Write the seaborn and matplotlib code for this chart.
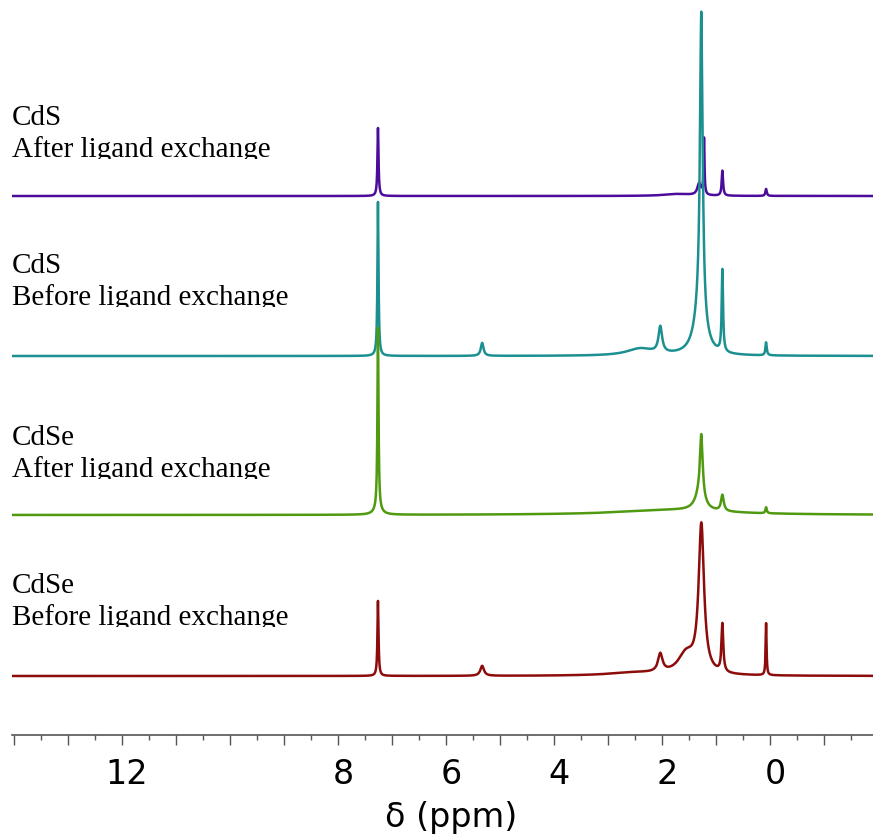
import numpy as np
import pandas as pd
import seaborn as sns
import matplotlib.pyplot as plt
from matplotlib.ticker import MultipleLocator, FuncFormatter
from matplotlib.transforms import Bbox, ScaledTranslation

sns.set_theme(style="white")
plt.rcParams['font.family'] = ['DejaVu Sans']

# peak tables: position (ppm), height (arb.), half width (ppm)
cds_after_pos = [7.26, 1.31, 1.22, 0.88, 0.07, 1.7]
cds_after_h = [68, 12, 56, 25, 7, 2]
cds_after_w = [0.012, 0.04, 0.01, 0.015, 0.015, 0.3]

cds_before_pos = [7.26, 5.33, 2.4, 2.03, 1.27, 1.3, 0.88, 0.07]
cds_before_h = [154, 13, 7, 26, 306, 40, 82, 13]
cds_before_w = [0.012, 0.03, 0.3, 0.04, 0.03, 0.12, 0.015, 0.015]

cdse_after_pos = [7.26, 7.26, 1.27, 1.3, 0.88, 0.07, 1.8]
cdse_after_h = [182, 5, 62, 16, 16, 6, 5]
cdse_after_w = [0.012, 0.08, 0.03, 0.1, 0.03, 0.015, 1.2]

cdse_before_pos = [7.26, 5.33, 2.03, 1.55, 1.27, 0.88, 0.07, 2.5]
cdse_before_h = [75, 10, 18, 20, 147, 48, 52, 3]
cdse_before_w = [0.012, 0.04, 0.05, 0.18, 0.06, 0.02, 0.01, 0.6]

names = ["CdS\nAfter ligand exchange", "CdS\nBefore ligand exchange",
         "CdSe\nAfter ligand exchange", "CdSe\nBefore ligand exchange"]
offsets = [539, 379, 220, 59]
colors = ["#4b0c9c", "#1c9090", "#4f9a10", "#8c0c0c"]

tables = [(cds_after_pos, cds_after_h, cds_after_w),
          (cds_before_pos, cds_before_h, cds_before_w),
          (cdse_after_pos, cdse_after_h, cdse_after_w),
          (cdse_before_pos, cdse_before_h, cdse_before_w)]

ppm = np.arange(-1.95, 14.1, 0.002)


def spectrum(pos, h, w):
    y = np.zeros_like(ppm)
    for p, a, g in zip(pos, h, w):
        y += a * g**2 / ((ppm - p)**2 + g**2)
    return y


fig = plt.figure(figsize=(8.73, 8.35), dpi=100)
ax = fig.add_axes([12/873, 100/835, 861/873, 735/835])

for (pos, h, w), off, c in zip(tables, offsets, colors):
    df = pd.DataFrame({"ppm": ppm, "y": spectrum(pos, h, w) + off})
    sns.lineplot(data=df, x="ppm", y="y", color=c, lw=1.8,
                 estimator=None, sort=False, ax=ax)

ax.set_xlim(14.04, -1.91)
ax.set_ylim(0, 735)
ax.set_yticks([])
ax.set_ylabel("")
for s in ["left", "right", "top"]:
    ax.spines[s].set_visible(False)
ax.spines["bottom"].set_color("#555555")
ax.spines["bottom"].set_linewidth(1.2)

shown = {12, 8, 6, 4, 2, 0}
ax.xaxis.set_major_locator(MultipleLocator(1))
ax.xaxis.set_minor_locator(MultipleLocator(0.5))
ax.xaxis.set_major_formatter(FuncFormatter(
    lambda v, p: str(int(round(v))) if int(round(v)) in shown else ""))
ax.tick_params(axis="x", which="major", direction="out", length=7.2,
               width=1, color="#555555", labelsize=24, labelcolor="black",
               pad=9, bottom=True)
ax.tick_params(axis="x", which="minor", direction="out", length=3.6,
               width=1, color="#555555", bottom=True)
shift = ScaledTranslation(5/100, 0, fig.dpi_scale_trans)
for lab in ax.get_xticklabels():
    lab.set_transform(lab.get_transform() + shift)
ax.set_xlabel("δ (ppm)", fontsize=24, labelpad=-4, color="black")
ax.xaxis.set_label_coords(0.51, -0.09)

# sample labels, bottom lines clipped like in the original figure
label_rows = [(125, 157, 159), (273, 305, 307), (445, 477, 479), (593, 625, 627)]
for name, (y1, y2, yc) in zip(names, label_rows):
    top, bottom = name.split("\n")
    clip = Bbox.from_extents(0, 835 - yc, 873, 835)
    for txt, yy in [(top, y1), (bottom, y2)]:
        t = fig.text(12/873, 1 - yy/835, txt, va="baseline", ha="left",
                     fontsize=21, color="black",
                     family=["Liberation Serif", "DejaVu Serif"])
        t.set_clip_box(clip)
        t.set_clip_on(True)

fig.savefig("out.png", dpi=100)
